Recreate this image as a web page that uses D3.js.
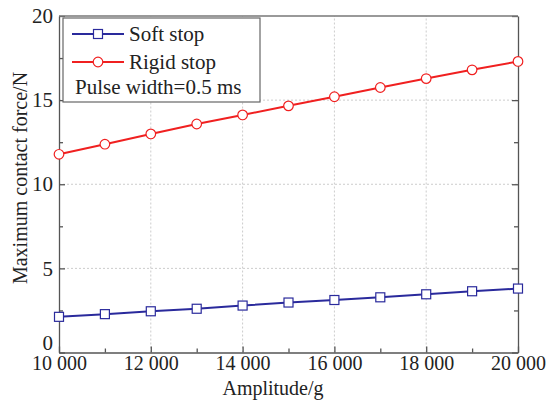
<!DOCTYPE html>
<html>
<head>
<meta charset="utf-8">
<script src="https://cdn.jsdelivr.net/npm/d3@7/dist/d3.min.js"></script>
<style>
  body { margin: 0; background: #fff; }
  text { font-family: "Liberation Serif", "DejaVu Serif", serif; fill: #222; }
</style>
</head>
<body>
<svg id="chart" width="552" height="401"></svg>
<script>
// amplitude in g, force in N
const amplitude = [10000, 11000, 12000, 13000, 14000, 15000, 16000, 17000, 18000, 19000, 20000];
const softStop = [2.12, 2.28, 2.45, 2.6, 2.79, 2.97, 3.12, 3.28, 3.46, 3.64, 3.8];
const rigidStop = [11.78, 12.38, 12.99, 13.58, 14.12, 14.66, 15.2, 15.75, 16.28, 16.8, 17.3];
const xTicks = [10000, 12000, 14000, 16000, 18000, 20000];
const yTicks = [0, 5, 10, 15, 20];

const margin = { left: 59, right: 34, top: 16, bottom: 47 };
const width = 552, height = 401;
const fontSize = "21px";
const svg = d3.select("#chart");

var x = d3.scaleLinear().domain([10000, 20000]).range([margin.left, width - margin.right]);
var y = d3.scaleLinear().domain([0, 20]).range([height - margin.bottom - 1.5, margin.top]);
const fmt = d => d3.format(",")(d).replace(",", " ");

// grid lines (dotted)
let grid = svg.append("g").attr("stroke", "#ccc").attr("stroke-dasharray", "2,2").attr("stroke-width", 1);
grid.selectAll(".gx").data(xTicks.slice(1, -1)).enter().append("line")
  .attr("x1", d => x(d)).attr("x2", d => x(d)).attr("y1", y(0)).attr("y2", y(20));
grid.selectAll(".gy").data(yTicks.slice(1, -1)).enter().append("line")
  .attr("y1", d => y(d)).attr("y2", d => y(d)).attr("x1", x(10000)).attr("x2", x(20000));

// axes, ticks pointing inward
const minorX = d3.range(11000, 20000, 2000);
const minorY = [2.5, 7.5, 12.5, 17.5];
function styleAxis(g, size) {
  g.selectAll("path, line").attr("stroke", "#555").attr("stroke-width", 1.3);
  g.selectAll("text").style("font-size", size || fontSize).attr("fill", "#222")
    .style("font-family", '"Liberation Serif", serif');
}
svg.append("g").attr("transform", `translate(0,${y(0)})`)
  .call(d3.axisBottom(x).tickValues(xTicks).tickFormat(fmt).tickSizeInner(-6).tickSizeOuter(0).tickPadding(3))
  .call(styleAxis, "20px");
svg.append("g").attr("transform", `translate(0,${y(0)})`)
  .call(d3.axisBottom(x).tickValues(minorX).tickFormat("").tickSizeInner(-4).tickSizeOuter(0))
  .call(styleAxis).select(".domain").remove();
let yAxis = svg.append("g").attr("transform", `translate(${x(10000)},0)`)
  .call(d3.axisLeft(y).tickValues(yTicks).tickSizeInner(-6).tickSizeOuter(0).tickPadding(6))
  .call(styleAxis);
// lift the "0" a little so it clears the first x label
yAxis.selectAll(".tick text").filter(d => d === 0).attr("dy", "-0.12em");
svg.append("g").attr("transform", `translate(${x(10000)},0)`)
  .call(d3.axisLeft(y).tickValues(minorY).tickFormat("").tickSizeInner(-4).tickSizeOuter(0))
  .call(styleAxis).select(".domain").remove();
svg.append("g").attr("transform", `translate(${x(20000)},0)`)
  .call(d3.axisRight(y).tickValues(yTicks).tickFormat("").tickSizeInner(-6).tickSizeOuter(0))
  .call(styleAxis);
svg.append("g").attr("transform", `translate(${x(20000)},0)`)
  .call(d3.axisRight(y).tickValues(minorY).tickFormat("").tickSizeInner(-4).tickSizeOuter(0))
  .call(styleAxis).select(".domain").remove();
svg.append("line").attr("x1", x(10000)).attr("x2", x(20000)).attr("y1", y(20)).attr("y2", y(20))
  .attr("stroke", "#777").attr("stroke-width", 1.3);

// series
const series = [
  { name: "Soft stop", values: softStop, color: "#2a2a9c", shape: "square" },
  { name: "Rigid stop", values: rigidStop, color: "#f02020", shape: "circle" }
];
const line = d3.line().x((d, i) => x(amplitude[i])).y(d => y(d));

function marker(g, shape, color) {
  if (shape === "square")
    g.append("rect").attr("x", -4.5).attr("y", -4.5).attr("width", 9).attr("height", 9)
      .attr("fill", "#fff").attr("stroke", color).attr("stroke-width", 1.2);
  else
    g.append("circle").attr("r", 4.8).attr("fill", "#fff").attr("stroke", color).attr("stroke-width", 1.2);
}

series.forEach(s => {
  svg.append("path").datum(s.values).attr("d", line)
    .attr("fill", "none").attr("stroke", s.color).attr("stroke-width", 2);
  s.values.forEach((v, i) => {
    let g = svg.append("g").attr("transform", `translate(${x(amplitude[i])},${y(v)})`);
    marker(g, s.shape, s.color);
  });
});

// legend
let legend = svg.append("g");
legend.append("rect").attr("x", 63).attr("y", 18).attr("width", 197).attr("height", 84)
  .attr("fill", "#fff").attr("stroke", "#666").attr("stroke-width", 1.2);
series.forEach((s, i) => {
  let ly = 34 + i * 28;
  legend.append("line").attr("x1", 72).attr("x2", 124).attr("y1", ly).attr("y2", ly)
    .attr("stroke", s.color).attr("stroke-width", 2);
  let g = legend.append("g").attr("transform", `translate(98,${ly})`);
  marker(g, s.shape, s.color);
  legend.append("text").attr("x", 129).attr("y", ly + 7).style("font-size", fontSize).text(s.name);
});
legend.append("text").attr("x", 75).attr("y", 94).style("font-size", fontSize).text("Pulse width=0.5 ms");

// axis titles
svg.append("text").attr("x", 273).attr("y", 395).attr("text-anchor", "middle")
  .style("font-size", "20px").text("Amplitude/g");
svg.append("text").attr("transform", "translate(27,178) rotate(-90)").attr("text-anchor", "middle")
  .style("font-size", "20px").text("Maximum contact force/N");
</script>
</body>
</html>
